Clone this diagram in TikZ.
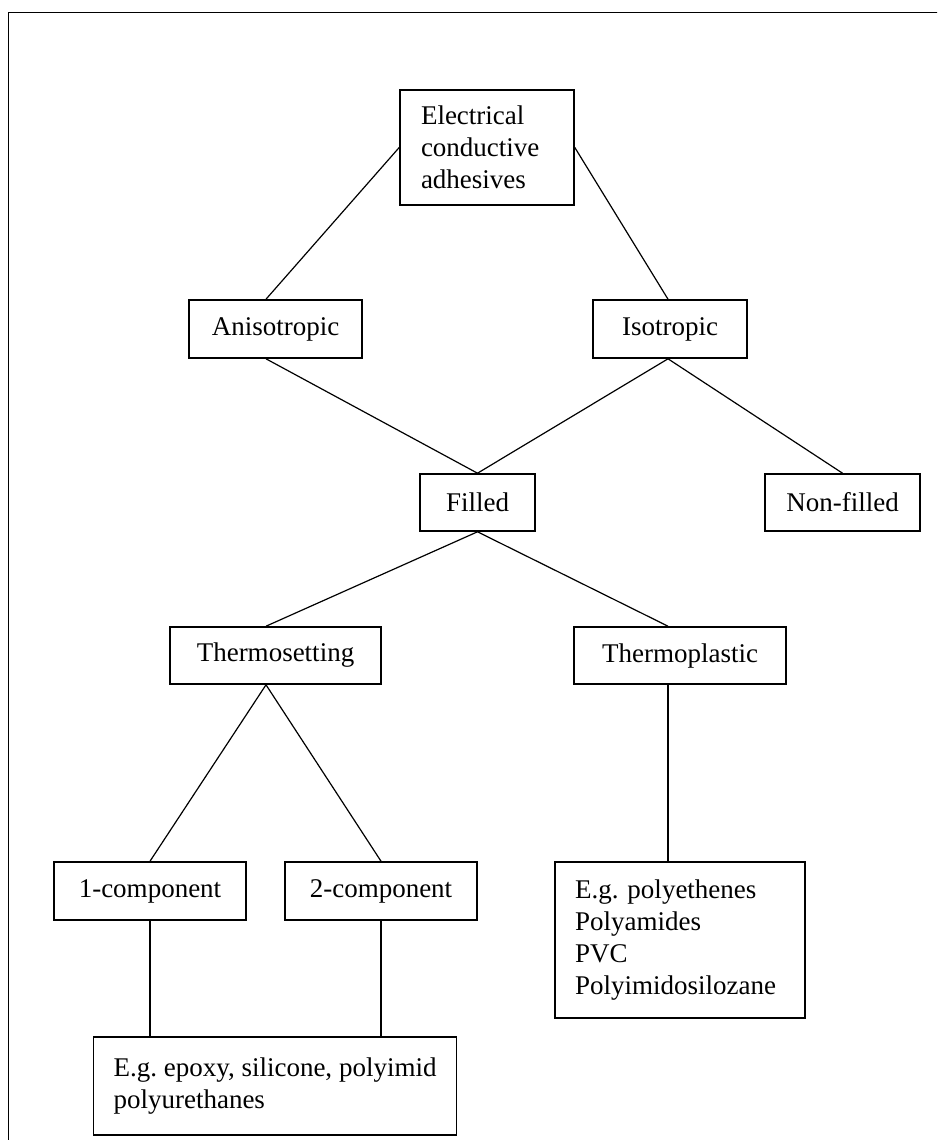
\documentclass[tikz,border=0pt]{standalone}
\usepackage{fontspec}
\setmainfont{Liberation Serif}
\frenchspacing
\begin{document}
\begin{tikzpicture}[x=0.5pt,y=-0.5pt,line width=0.6pt,
  every node/.style={draw,rectangle,line width=0.8pt,inner sep=0pt,font=\fontsize{13.5}{16}\selectfont}]
\useasboundingbox (0,0) rectangle (937,1140);
\clip (0,0) rectangle (937,1140);
\draw[line width=0.5pt] (8,1160) -- (8,12) -- (960,12);
\node[minimum width=87pt,minimum height=57.5pt,align=left,text width=66pt] (eca) at (487,147.5) {Electrical\\conductive\\adhesives};
\node[minimum width=86.5pt,minimum height=29pt]   (ani)  at (275.5,329)  { Anisotropic };
\node[minimum width=77pt,minimum height=29pt]     (iso)  at (670,329)    { Isotropic };
\node[minimum width=57.5pt,minimum height=28.5pt] (fil)  at (477.5,502.5) { Filled };
\node[minimum width=77.5pt,minimum height=28.5pt] (non)  at (842.5,502.5) { Non-filled };
\node[minimum width=105.5pt,minimum height=28.5pt] (tset) at (275.5,655.5) { Thermosetting };
\node[minimum width=106pt,minimum height=28.5pt]  (tpla) at (680,655.5)  { Thermoplastic };
\node[minimum width=96pt,minimum height=29pt]     (one)  at (150,891)    { 1-component };
\node[minimum width=96pt,minimum height=29pt]     (two)  at (381,891)    { 2-component };
\node[minimum width=125pt,minimum height=78pt,align=left,text width=105pt] (poly) at (680,940) {E.g. polyethenes\\Polyamides\\PVC\\Polyimidosilozane};
\node[minimum height=49pt,align=left,inner xsep=10pt] (epox) at (275,1086) {E.g. epoxy, silicone, polyimid\\polyurethanes};
\draw (eca.west) -- ([xshift=-4.75pt]ani.north);
\draw (eca.east) -- ([xshift=-1pt]iso.north);
\draw ([xshift=-4.75pt]ani.south) -- (fil.north);
\draw ([xshift=-1pt]iso.south) -- (fil.north);
\draw ([xshift=-1pt]iso.south) -- (non.north);
\draw (fil.south) -- ([xshift=-4.75pt]tset.north);
\draw (fil.south) -- ([xshift=-6pt]tpla.north);
\draw ([xshift=-4.75pt]tset.south) -- (one.north);
\draw ([xshift=-4.75pt]tset.south) -- (two.north);
\draw ([xshift=-6pt]tpla.south) -- ([xshift=-6pt]poly.north);
\draw (one.south) -- (one.south |- epox.north);
\draw (two.south) -- (two.south |- epox.north);
\end{tikzpicture}
\end{document}
